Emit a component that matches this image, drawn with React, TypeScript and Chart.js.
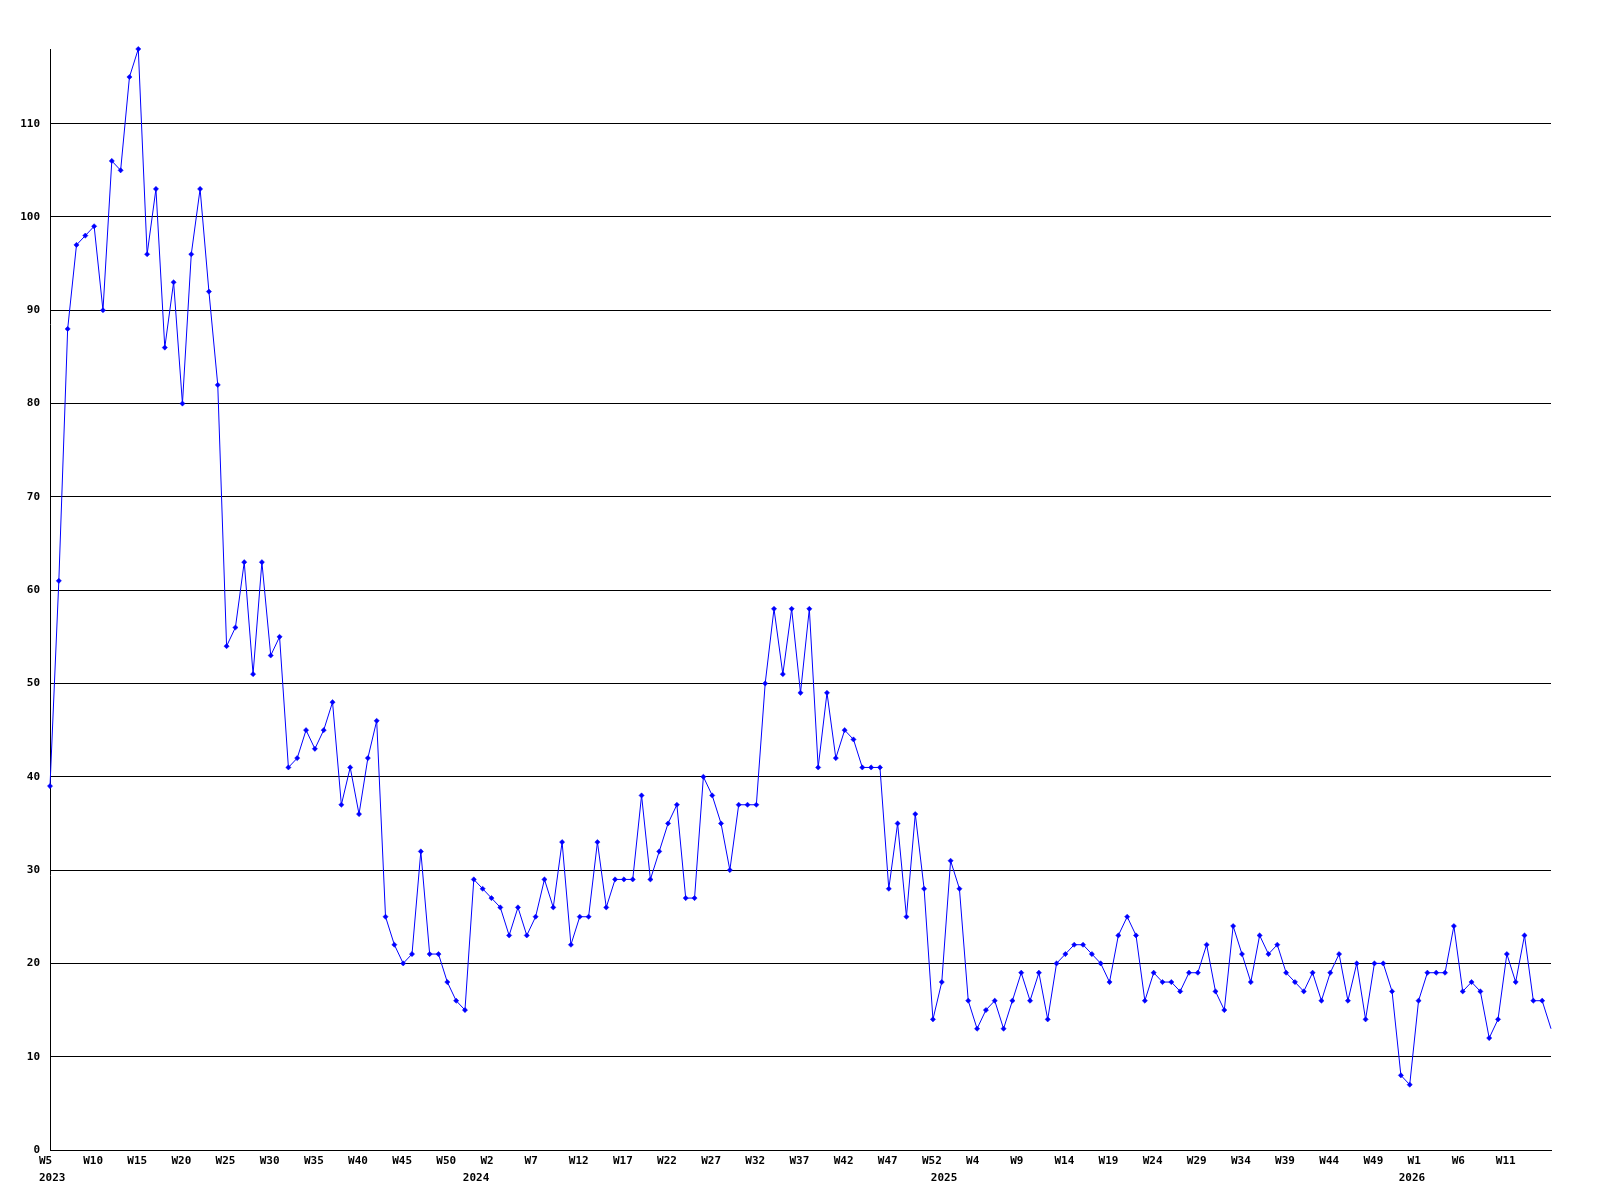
import React, { useEffect, useRef } from 'react';
import { Chart, registerables } from 'chart.js';

Chart.register(...registerables);

// Weekly values, one array per year (week numbering starts at firstWeeks[i])
const years = [2023, 2024, 2025, 2026];
const firstWeeks = [5, 0, 0, 0];
const values2023 = [
  39, 61, 88, 97, 98, 99, 90, 106, 105, 115, 118, 96, 103, 86, 93, 80, 96, 103, 92, 82,
  54, 56, 63, 51, 63, 53, 55, 41, 42, 45, 43, 45, 48, 37, 41, 36, 42, 46, 25, 22,
  20, 21, 32, 21, 21, 18, 16, 15,
];
const values2024 = [
  29, 28, 27, 26, 23, 26, 23, 25, 29, 26, 33, 22, 25, 25, 33, 26, 29, 29, 29, 38,
  29, 32, 35, 37, 27, 27, 40, 38, 35, 30, 37, 37, 37, 50, 58, 51, 58, 49, 58, 41,
  49, 42, 45, 44, 41, 41, 41, 28, 35, 25, 36, 28, 14,
];
const values2025 = [
  18, 31, 28, 16, 13, 15, 16, 13, 16, 19, 16, 19, 14, 20, 21, 22, 22, 21, 20, 18,
  23, 25, 23, 16, 19, 18, 18, 17, 19, 19, 22, 17, 15, 24, 21, 18, 23, 21, 22, 19,
  18, 17, 19, 16, 19, 21, 16, 20, 14, 20, 20, 17, 8,
];
const values2026 = [7, 16, 19, 19, 19, 24, 17, 18, 17, 12, 14, 21, 18, 23, 16, 16, 13];
const seriesByYear = [values2023, values2024, values2025, values2026];

const yMin = 0;
const yMax = 118;
const yStep = 10;
const weekLabelEvery = 5;

const weekLabels: string[] = [];
const values: number[] = [];
const yearAt: Record<number, string> = {};
seriesByYear.forEach((vals, yi) => {
  yearAt[weekLabels.length] = String(years[yi]);
  vals.forEach((v, k) => {
    weekLabels.push(`W${firstWeeks[yi] + k}`);
    values.push(v);
  });
});

const FONT = { family: '"DejaVu Sans Mono", "Liberation Mono", monospace', size: 11, weight: 'bold' as const, lineHeight: 1.5 };

export default function App() {
  const ref = useRef<HTMLCanvasElement | null>(null);
  useEffect(() => {
    document.body.style.margin = '0';
    if (!ref.current) return;
    const last = values.length - 1;
    const chart = new Chart(ref.current, {
      type: 'line',
      data: {
        labels: weekLabels,
        datasets: [
          {
            data: values,
            borderColor: '#0000ff',
            borderWidth: 1,
            tension: 0,
            pointStyle: 'rectRot',
            pointRadius: (ctx: any) => (ctx.dataIndex === last ? 0 : 2.6),
            pointBackgroundColor: '#0000ff',
            pointBorderColor: '#0000ff',
            pointBorderWidth: 0.5,
            clip: false as any,
          },
        ],
      },
      options: {
        animation: false,
        responsive: false,
        devicePixelRatio: 1,
        layout: { padding: { top: 49, right: 49, left: 0, bottom: 0 } },
        plugins: { legend: { display: false }, tooltip: { enabled: false } },
        scales: {
          x: {
            type: 'category',
            offset: false,
            grid: { display: false, drawTicks: false },
            border: { display: true, color: '#000', width: 1 },
            afterFit: (s: any) => { s.height = 50; },
            ticks: {
              autoSkip: false,
              maxRotation: 0,
              minRotation: 0,
              align: 'start',
              labelOffset: -11,
              padding: 3,
              color: '#000',
              font: FONT,
              callback: (_v: any, index: number) => {
                const wk = index % weekLabelEvery === 0 && index < last ? weekLabels[index] : '';
                const yr = yearAt[index];
                return yr ? [wk, yr] : wk;
              },
            },
          },
          y: {
            type: 'linear',
            min: yMin,
            max: yMax,
            afterFit: (s: any) => { s.width = 50; },
            grid: { color: '#000', lineWidth: 1, drawTicks: false },
            border: { display: true, color: '#000', width: 1 },
            ticks: {
              stepSize: yStep,
              includeBounds: false,
              padding: 10,
              color: '#000',
              font: FONT,
            },
          },
        },
      },
    });
    return () => chart.destroy();
  }, []);
  return <canvas ref={ref} width={1600} height={1200} style={{ display: 'block', background: '#fff' }} />;
}
